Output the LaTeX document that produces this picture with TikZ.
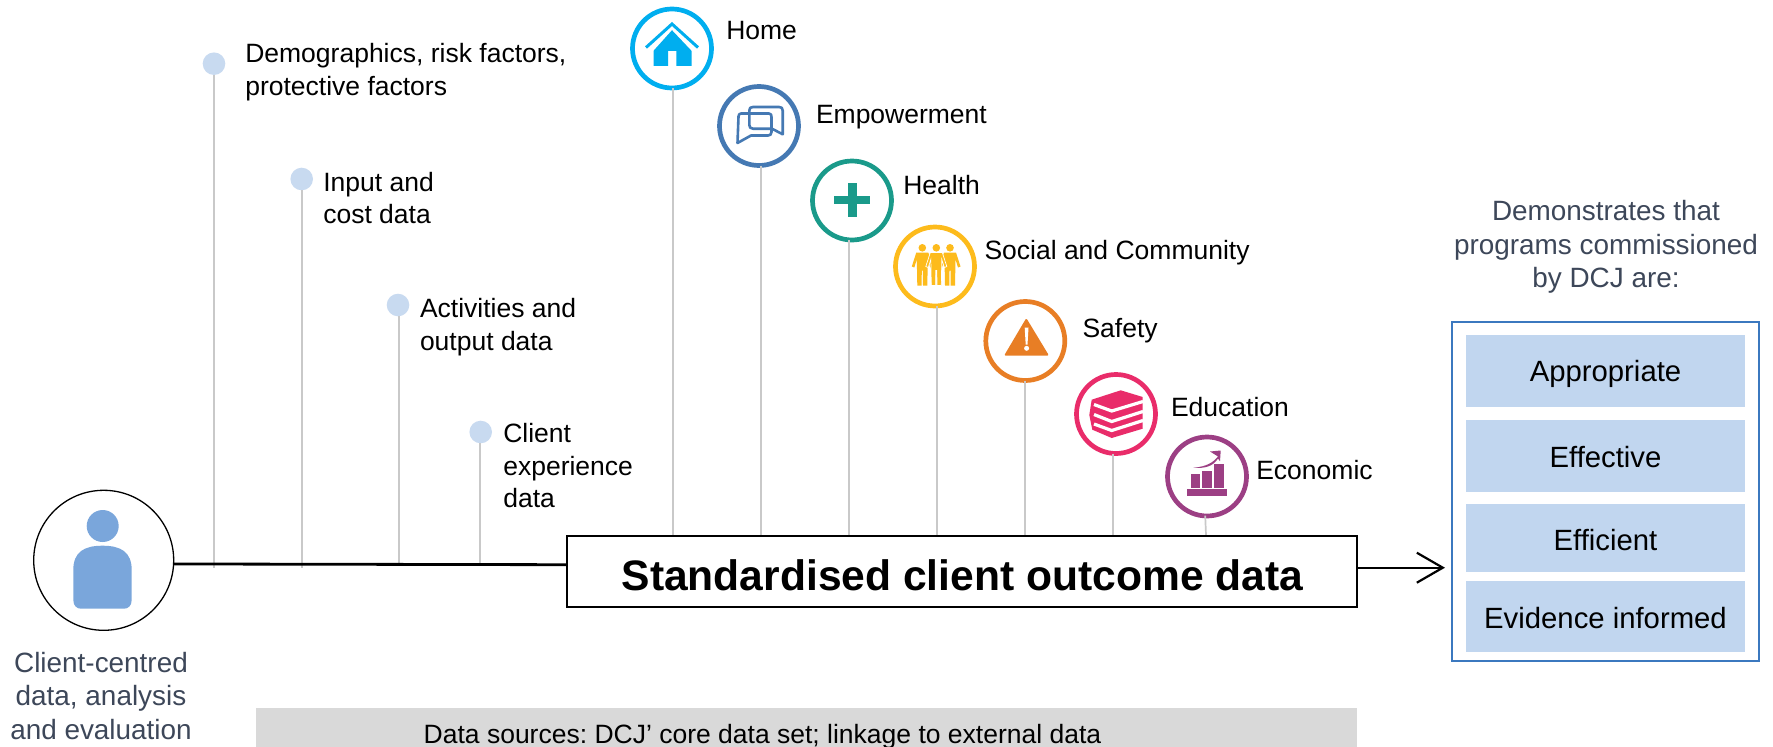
\documentclass[tikz,border=0pt]{standalone}
\usepackage{fontspec}
\setmainfont{Liberation Sans}
\frenchspacing
\usetikzlibrary{arrows.meta}
\definecolor{cHome}{HTML}{00AEEF}
\definecolor{cEmp}{HTML}{4579B3}
\definecolor{cHealth}{HTML}{1A9A8A}
\definecolor{cSoc}{HTML}{FDBB1C}
\definecolor{cSafe}{HTML}{E87E25}
\definecolor{cEdu}{HTML}{E92C6A}
\definecolor{cEco}{HTML}{9C3F84}
\definecolor{cDot}{HTML}{C8DAF0}
\definecolor{cStem}{HTML}{C9C9C9}
\definecolor{cPale}{HTML}{C1D6EF}
\definecolor{cPerson}{HTML}{7AA6DB}
\definecolor{cSlate}{HTML}{3D4759}
\definecolor{cFrame}{HTML}{3B78BF}
\definecolor{cGrey}{HTML}{D9D9D9}
\tikzset{
  ring/.style={circle,draw=#1,line width=4.7pt,fill=white,minimum size=79pt,inner sep=0pt,outer sep=0pt},
  dotnode/.style={circle,fill=cDot,minimum size=22.6pt,inner sep=0pt,outer sep=0pt},
  stem/.style={cStem,line width=1.7pt},
  lab/.style={anchor=base west,inner sep=0pt,outer sep=0pt,align=left,font=\fontsize{26.5}{32.4}\selectfont},
  slatetext/.style={anchor=base,inner sep=0pt,outer sep=0pt,align=center,text=cSlate,font=\fontsize{27.9}{33.4}\selectfont},
  palebox/.style={fill=cPale,inner sep=0pt,outer sep=0pt,minimum width=279pt,anchor=north west},
  paletext/.style={anchor=base,inner sep=0pt,outer sep=0pt,font=\fontsize{29.3}{33}\selectfont},
}
\newcommand{\figman}[1]{%
  (#1-6,-14)--(#1+6,-14)--(#1+10.5,0)--(#1+8,1)--(#1+5.5,-7)--(#1+5,19)--(#1+0.7,19)--(#1+0.5,4)--(#1-0.5,4)--(#1-0.7,19)--(#1-5,19)--(#1-5.5,-7)--(#1-8,1)--(#1-10.5,0)--cycle}
\begin{document}
\begin{tikzpicture}[x=1pt,y=-1pt]
\useasboundingbox (0,0) rectangle (1773,747);
% grey band
\node[fill=cGrey,inner sep=0pt,outer sep=0pt,minimum width=1101pt,minimum height=39pt,anchor=north west] (greyband) at (256,708) {};
\node[anchor=base,inner sep=0pt,font=\fontsize{26.5}{30}\selectfont] (sources) at (762.5,743) {Data sources: DCJ’ core data set; linkage to external data};
% named base points
\coordinate (bHome) at (673,536);
\coordinate (bEmp) at (761,536);
\coordinate (bHealth) at (849,536);
\coordinate (bSoc) at (937,536);
\coordinate (bSafe) at (1025,536);
\coordinate (bEdu) at (1112.7,536);
\coordinate (bEco) at (1206,535);
\coordinate (bDemo) at (214,568);
\coordinate (bInput) at (302.3,568);
\coordinate (bAct) at (399,566);
\coordinate (bClient) at (480,564);
\coordinate (tip) at (1445,567.7);
\coordinate (lineEnd) at (567.3,564.7);
% person
\node[circle,draw=black,line width=1.3pt,fill=white,minimum size=140pt,inner sep=0pt,outer sep=0pt] (person) at (103.7,560.3) {};
\node[circle,fill=cPerson,minimum size=32pt,inner sep=0pt,outer sep=0pt] (head) at (102.7,526) {};
\fill[cPerson] (73.3,570) .. controls (73.3,552) and (84,545.7) .. (102.5,545.7) .. controls (121,545.7) and (131.7,552) .. (131.7,570) -- (131.7,600) .. controls (131.7,606) and (128,608.7) .. (124,608.7) -- (81,608.7) .. controls (77,608.7) and (73.3,606) .. (73.3,600) -- cycle;
\node[slatetext] (clientcentred) at (101,739) {Client-centred\\data, analysis\\and evaluation};
% dots
\node[dotnode] (dDemo) at (214,63.7) {};
\node[dotnode] (dInput) at (301.7,179) {};
\node[dotnode] (dAct) at (398,305) {};
\node[dotnode] (dClient) at (480.7,432) {};
\draw[stem] (dDemo.south -| bDemo) -- (bDemo);
\draw[stem] (dInput.south -| bInput) -- (bInput);
\draw[stem] (dAct.south -| bAct) -- (bAct);
\draw[stem] (dClient.south -| bClient) -- (bClient);
\node[lab] (tDemo) at (245.3,95) {Demographics, risk factors,\\protective factors};
\node[lab] (tInput) at (323.3,223.8) {Input and\\cost data};
\node[lab] (tAct) at (420,350) {Activities and\\output data};
\node[lab] (tClient) at (503.3,507.7) {Client\\experience\\data};
% rings
\node[ring=cHome] (rHome) at (672,48.5) {};
\node[ring=cEmp] (rEmp) at (759,126) {};
\node[ring=cHealth] (rHealth) at (852,200.5) {};
\node[ring=cSoc] (rSoc) at (935,266.5) {};
\node[ring=cSafe] (rSafe) at (1025.3,341) {};
\node[ring=cEdu] (rEdu) at (1116,414) {};
\node[ring=cEco] (rEco) at (1207,476.5) {};
\draw[stem] (rHome.south -| bHome) -- (bHome);
\draw[stem] (rEmp.south -| bEmp) -- (bEmp);
\draw[stem] (rHealth.south -| bHealth) -- (bHealth);
\draw[stem] (rSoc.south -| bSoc) -- (bSoc);
\draw[stem] (rSafe.south -| bSafe) -- (bSafe);
\draw[stem] (rEdu.south -| bEdu) -- (bEdu);
\draw[stem] (rEco.south) ++(-1.8,-0.3) -- (bEco);
\node[lab] (tHome) at (726.3,39.8) {Home};
\node[lab] (tEmp) at (816,123.5) {Empowerment};
\node[lab] (tHealth) at (903.3,194.5) {Health};
\node[lab] (tSoc) at (984.5,259.5) {Social and Community};
\node[lab] (tSafe) at (1082.5,337) {Safety};
\node[lab] (tEdu) at (1171,416) {Education};
\node[lab] (tEco) at (1256.3,479) {Economic};
% icons
\begin{scope}[shift={(rHome.center)}]
\draw[cHome,line width=3pt] (-26,-1) -- (0,-24.5) -- (26,-1);
\fill[cHome] (-18.5,17.3) -- (-18.5,2.3) -- (0,-18.3) -- (19.5,2.3) -- (19.5,17.3) -- (4.3,17.3) -- (4.3,2.3) -- (-4,2.3) -- (-4,17.3) -- cycle;
\end{scope}
\begin{scope}[shift={(rEmp.center)},cEmp,line width=2.6pt,line join=round]
\draw (-18,-12.5) -- (10,-12.5) .. controls (12,-12.5) and (12.5,-11) .. (12.5,-9) -- (12.5,6) .. controls (12.5,8.5) and (11,9.5) .. (9,9.5) -- (-8,9.5) -- (-21.5,17) -- (-20.5,-9.5) .. controls (-20.5,-11.5) and (-19.5,-12.5) .. (-18,-12.5) -- cycle;
\draw (-6,-19) -- (20,-19) .. controls (22.5,-19) and (23.7,-18) .. (23.7,-15.5) -- (23.7,8.3) -- (13,2.7) -- (-6,2.7) .. controls (-8.5,2.7) and (-9.7,1) .. (-9.7,-1) -- (-9.7,-15.5) .. controls (-9.7,-18) and (-8.5,-19) .. (-6,-19) -- cycle;
\end{scope}
\begin{scope}[shift={(rHealth.center)}]
\fill[cHealth] (-18,-4.3) rectangle (18,3.7);
\fill[cHealth] (-4,-17.3) rectangle (5,16.3);
\end{scope}
\begin{scope}[shift={(rSoc.center)}]
\fill[cSoc] (-12.7,-18.7) circle (3.8);
\fill[cSoc] (15,-18.7) circle (3.8);
\fill[cSoc] (1.3,-18.7) circle (3.8);
\fill[cSoc] \figman{-12.7};
\fill[cSoc] \figman{15};
\filldraw[cSoc,draw=white,line width=0.7pt] \figman{1.3};
\end{scope}
\begin{scope}[shift={(rSafe.center)}]
\fill[cSafe,draw=cSafe,line width=2pt,line join=round] (1,-21) -- (-19.5,13.7) -- (22,13.7) -- cycle;
\fill[white] (-0.6,-13.3) -- (3.2,-13.3) -- (2.2,3.7) -- (0.4,3.7) -- cycle;
\fill[white] (1.3,7.3) circle (2.5);
\end{scope}
\begin{scope}[shift={(rEdu.center)}]
\fill[cEdu] (-24.3,-14.3) -- (4.7,-23.7) -- (26.7,-17) -- (26.7,14.7) -- (-4.3,24) -- (-23.7,15.7) -- (-26.7,1) -- cycle;
\draw[white,line width=3.2pt] (-22,-9.5) -- (-4.3,-3) -- (27,-12.5);
\draw[white,line width=3.2pt] (-22,0.5) -- (-4.3,7.5) -- (27,-2.5);
\draw[white,line width=3.2pt] (-22,10) -- (-4.3,16.5) -- (27,6.5);
\end{scope}
\begin{scope}[shift={(rEco.center)}]
\fill[cEco] (-20,12) rectangle (19.7,19);
\fill[cEco] (-16,-3) rectangle (-7,11);
\fill[cEco] (-5,-6) rectangle (5,11);
\fill[cEco] (7,-13) rectangle (17,11);
\fill[cEco] (-13.7,-8.7) .. controls (0,-10) and (6,-14) .. (11,-20) -- (3,-25) -- (13.7,-26) -- (13,-15.3) -- (11,-18) .. controls (6,-10) and (-2,-8) .. (-13.7,-8.7) -- cycle;
\end{scope}
% main box
\node[draw=black,line width=2pt,fill=white,inner sep=0pt,outer sep=0pt,minimum width=790pt,minimum height=71.3pt,anchor=north west] (mainbox) at (567.3,536) {};
\node[anchor=base,inner sep=0pt,outer sep=0pt,font=\fontsize{42.6}{48}\selectfont\bfseries] (maintext) at (962.5,590) {Standardised client outcome data};
\draw[black,line width=2.8pt] (person.-3) -- (lineEnd);
\draw[black,line width=2pt,-{Straight Barb[length=26pt,width=30pt,line width=2.2pt]}] (mainbox.east |- tip) -- (tip);
% right panel
\node[draw=cFrame,line width=2pt,fill=white,inner sep=0pt,outer sep=0pt,minimum width=307.3pt,minimum height=339pt,anchor=north west] (panel) at (1451.7,322) {};
\node[slatetext] (demonstrates) at (1606,287.5) {Demonstrates that\\programs commissioned\\by DCJ are:};
\node[palebox,minimum height=72.3pt] (p1) at (1466,334.7) {};
\node[palebox,minimum height=72.5pt] (p2) at (1466,419.5) {};
\node[palebox,minimum height=68pt] (p3) at (1466,504) {};
\node[palebox,minimum height=71pt] (p4) at (1466,581) {};
\node[paletext] (t1) at (1605.5,381.5) {Appropriate};
\node[paletext] (t2) at (1605.5,467) {Effective};
\node[paletext] (t3) at (1605.5,550) {Efficient};
\node[paletext] (t4) at (1605.5,628) {Evidence informed};
\end{tikzpicture}
\end{document}
